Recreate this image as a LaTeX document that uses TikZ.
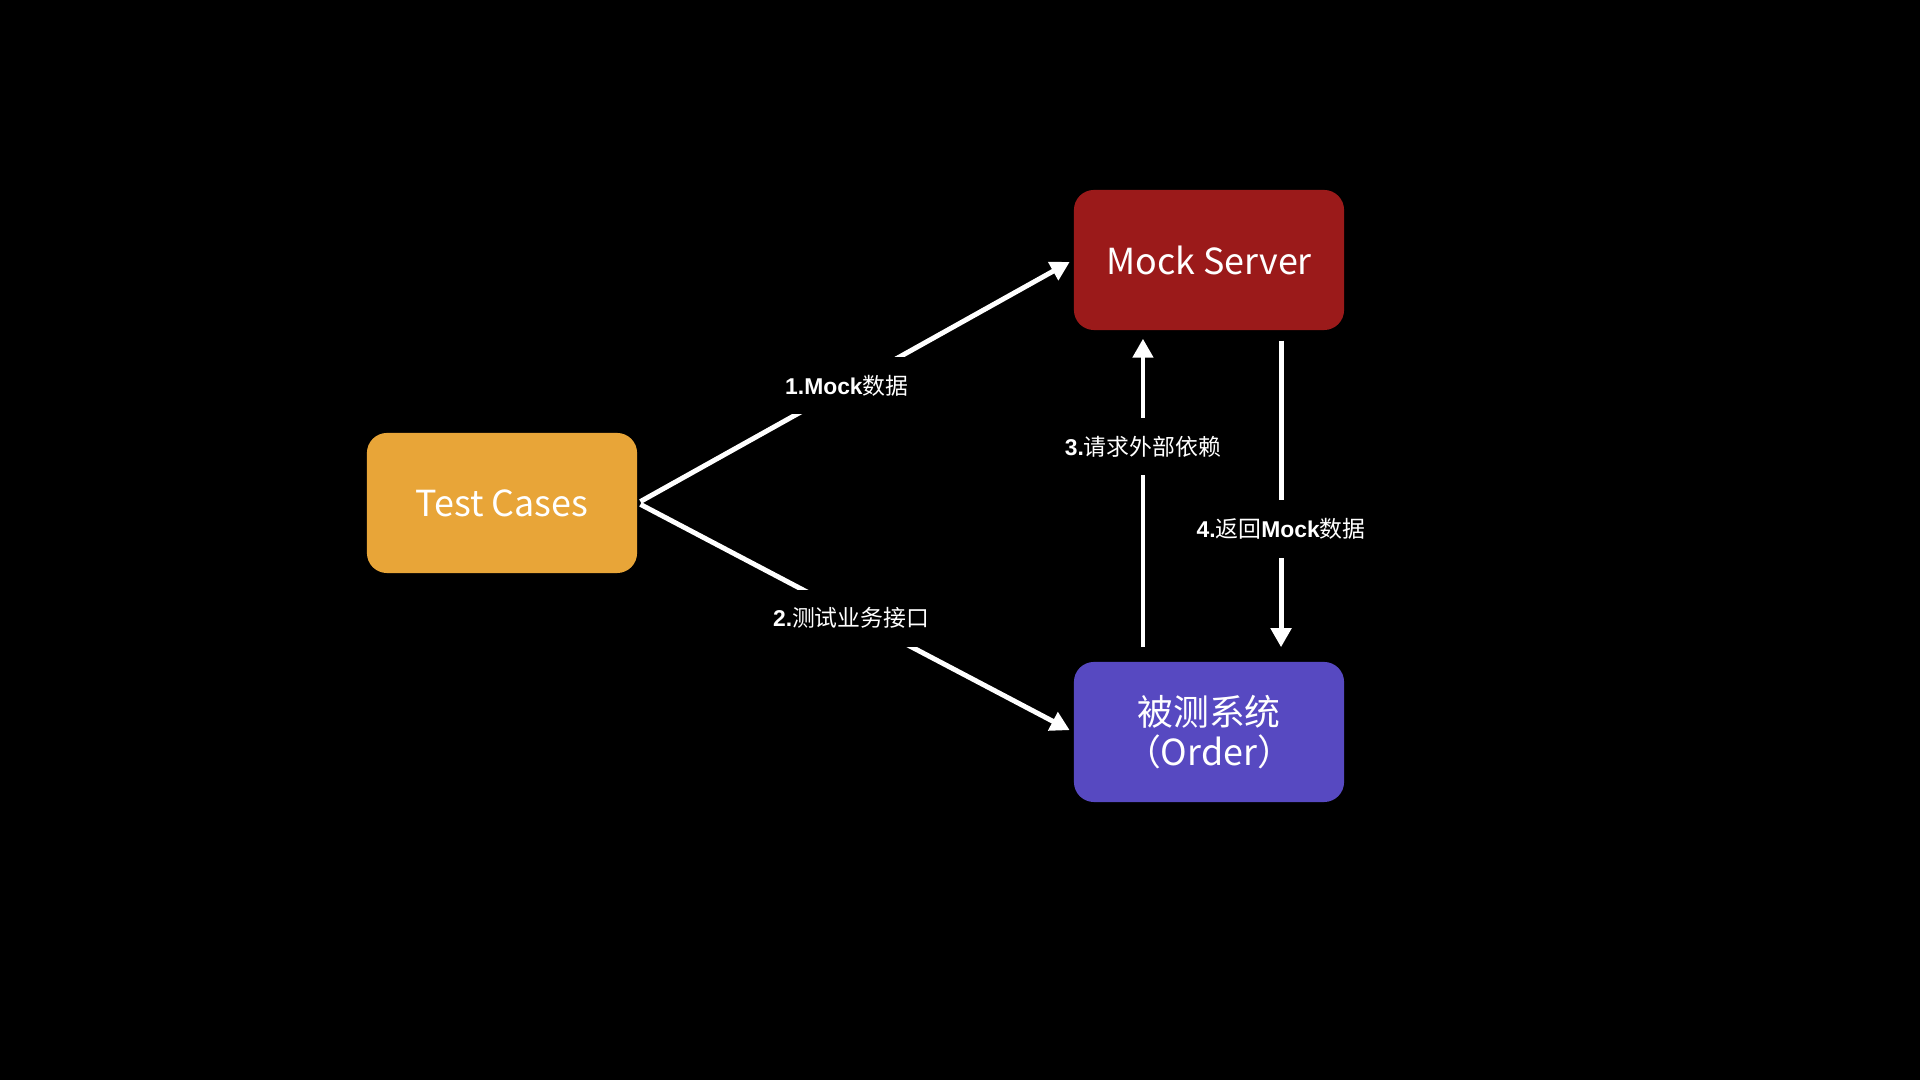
\documentclass[tikz,border=0pt]{standalone}
\usepackage{fontspec}
\setmainfont{Liberation Sans}
\newfontfamily\cjk{Noto Sans CJK SC}
\usetikzlibrary{arrows.meta,positioning}
\definecolor{tcorange}{RGB}{232,165,56}
\definecolor{msred}{RGB}{155,26,26}
\definecolor{sutblue}{RGB}{87,73,193}
\newcommand{\hz}[1]{{\cjk\mdseries #1}}
\tikzset{
  box/.style = {rounded corners = 0.2cm, minimum width = 2.7cm, minimum height = 1.4cm,
    text = white, align = center, font = \cjk\fontsize{10.2}{11.5}\selectfont},
  flow/.style = {draw = white, line width = 1.4pt, -{Triangle[width = 0.2cm, length = 0.19cm]}},
  tag/.style = {fill = black, text = white, inner xsep = 1pt, inner ysep = 0.18cm,
    font = \fontsize{6.5}{7}\selectfont},
}

\begin{document}
\begin{tikzpicture}[x = 0.01cm, y = -0.01cm]
            \fill[black](0,0)rectangle(1920,1080);
            \useasboundingbox(0,0)rectangle(1920,1080);
            %各ボックス
            \node[box, fill = tcorange](tc)at(502,503){Test Cases};
            \node[box, fill = msred](ms)at(1209,260){Mock Server};
            \node[box, fill = sutblue](sut)at(1209,732){被测系统\\（Order）};
            %Test Cases から
            \path[flow, shorten <= 0.03cm, shorten >= 0.04cm](tc.east)to
              node[tag, pos = 0.48, yshift = 0.01cm]{\bfseries 1.Mock\hz{数据}}(ms.west);
            \path[flow, shorten <= 0.03cm, shorten >= 0.04cm](tc.east)to
              node[tag, pos = 0.49, yshift = -0.03cm]{\bfseries 2.\hz{测试业务接口}}(sut.west);
            %被测系统と Mock Server の間
            \path[flow, shorten <= 0.14cm, shorten >= 0.08cm]([xshift = -0.66cm]sut.north)to
              node[tag, pos = 0.65]{\bfseries 3.\hz{请求外部依赖}}([xshift = -0.66cm]ms.south);
            \path[flow, shorten <= 0.10cm, shorten >= 0.14cm]([xshift = 0.72cm]ms.south)to
              node[tag, pos = 0.6]{\bfseries 4.\hz{返回}Mock\hz{数据}}([xshift = 0.72cm]sut.north);
        \end{tikzpicture}
\end{document}
